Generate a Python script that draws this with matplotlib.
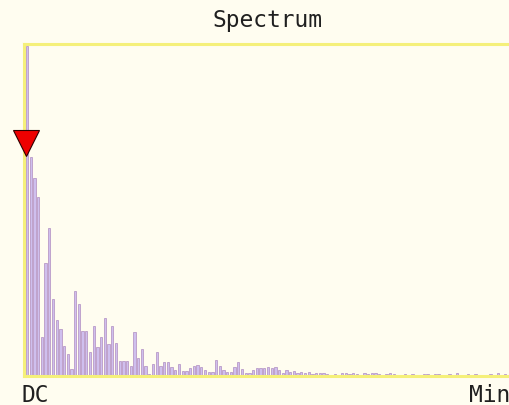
import numpy as np
import matplotlib.pyplot as plt

# spectrum bin magnitudes (bin 0 = DC)
mags = [330, 219, 198, 179, 39, 113, 148, 77, 56, 47,
        30, 22, 7, 85, 72, 45, 45, 24, 50, 29,
        39, 58, 32, 50, 33, 15, 15, 15, 10, 44,
        18, 27, 10, 2, 12, 24, 10, 14, 14, 9,
        6, 12, 5, 5, 8, 10, 11, 9, 6, 4,
        4, 16, 10, 6, 4, 4, 9, 14, 7, 3,
        3, 6, 8, 8, 8, 9, 8, 9, 6, 3,
        6, 4, 5, 3, 4, 3, 4, 2, 3, 3,
        3, 2, 1, 2, 1, 3, 3, 2, 3, 2,
        1, 3, 2, 3, 3, 2, 1, 2, 3, 2,
        1, 0, 2, 1, 2, 1, 0, 2, 2, 1,
        2, 2, 1, 0, 2, 1, 3, 1, 0, 2,
        1, 2, 1, 0, 1, 2, 1, 3, 1, 2]
marker_bin = 0
marker_level = 233.5
title = "Spectrum"
left_label = "DC"
right_label = "Min"

bg = '#fffdf0'
frame = '#f5f07a'

fig = plt.figure(figsize=(5.10, 4.06), dpi=100, facecolor=bg)
ax = fig.add_axes([24 / 510, 29 / 406, 492 / 510, 332 / 406])
ax.set_facecolor(bg)

bins = np.arange(len(mags))
ax.bar(bins, mags, width=0.62, color='#cfbfee', edgecolor='#b08cc0',
       linewidth=0.5, zorder=2)
ax.plot([marker_bin - 0.3], [marker_level], marker='v', markersize=19,
        color='#ee0000', markeredgecolor='#300000', markeredgewidth=0.8,
        clip_on=False, zorder=5)

ax.set_xlim(-0.81, 131.9)
ax.set_ylim(0, 332)
ax.set_xticks([])
ax.set_yticks([])
for side in ['left', 'top', 'bottom', 'right']:
    ax.spines[side].set_color(frame)
    ax.spines[side].set_linewidth(2.2)

fig.text(268 / 510, 1 - 20 / 406, title, ha='center', va='center',
         fontsize=16.5, family='DejaVu Sans Mono', color='#202020')
fig.text(22 / 510, 1 - 396 / 406, left_label, ha='left', va='center',
         fontsize=16.5, family='DejaVu Sans Mono', color='#202020')
fig.text(510 / 510, 1 - 396 / 406, right_label, ha='right', va='center',
         fontsize=16.5, family='DejaVu Sans Mono', color='#202020')

fig.savefig('out.png', dpi=100, facecolor=bg)
